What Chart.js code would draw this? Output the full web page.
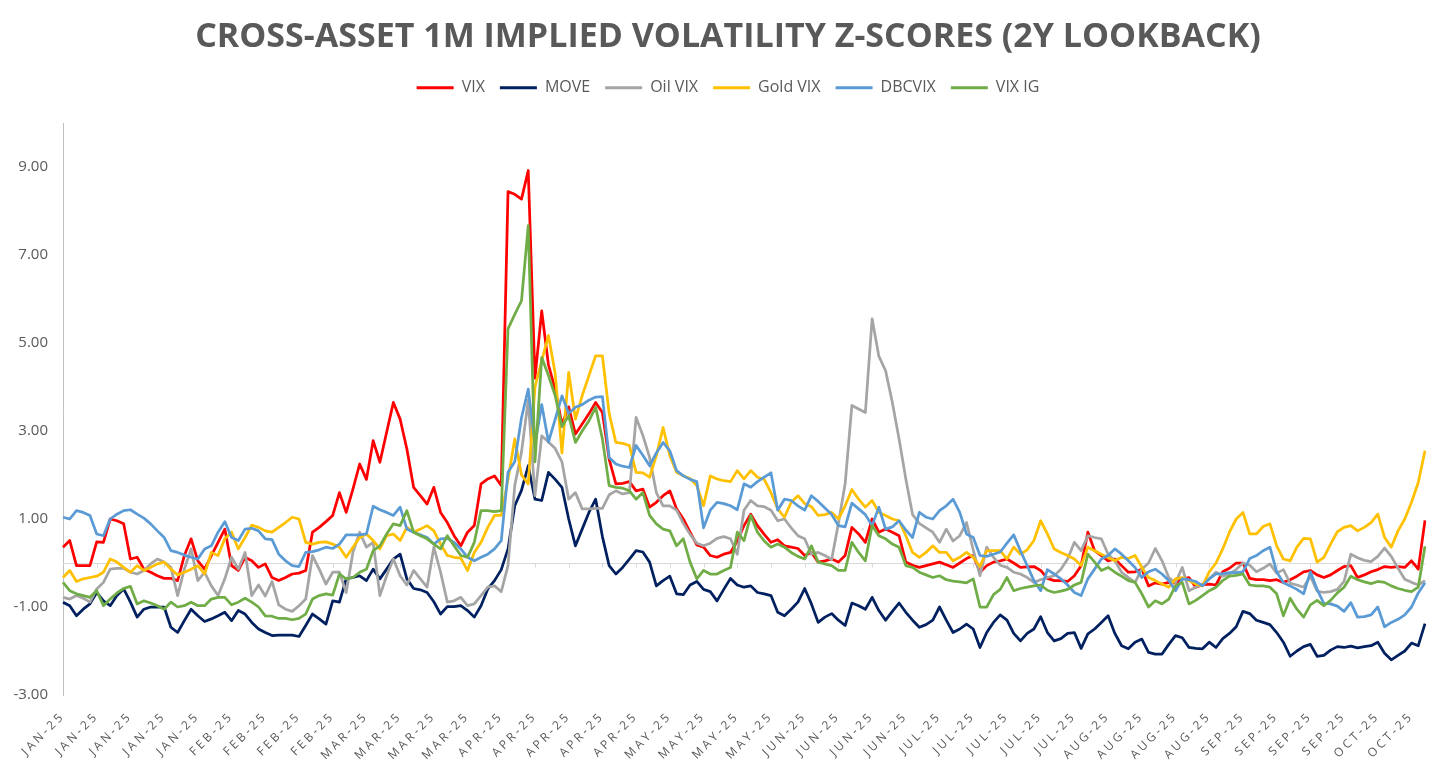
<!DOCTYPE html>
<html>
<head>
<meta charset="utf-8">
<title>Cross-asset 1M implied volatility z-scores</title>
<script src="https://cdn.jsdelivr.net/npm/chart.js@4.4.1/dist/chart.umd.min.js"></script>
<style>
  html, body { margin: 0; padding: 0; background: #ffffff; }
  #wrap { width: 1456px; height: 772px; }
</style>
</head>
<body>
<div id="wrap"><canvas id="volChart" width="1456" height="772"></canvas></div>
<script>
// one tick label every 5 trading days
var tickLabels = [
    'JAN-25', 'JAN-25', 'JAN-25', 'JAN-25', 'JAN-25',
    'FEB-25', 'FEB-25', 'FEB-25', 'FEB-25',
    'MAR-25', 'MAR-25', 'MAR-25', 'MAR-25',
    'APR-25', 'APR-25', 'APR-25', 'APR-25', 'APR-25',
    'MAY-25', 'MAY-25', 'MAY-25', 'MAY-25',
    'JUN-25', 'JUN-25', 'JUN-25', 'JUN-25',
    'JUL-25', 'JUL-25', 'JUL-25', 'JUL-25', 'JUL-25',
    'AUG-25', 'AUG-25', 'AUG-25', 'AUG-25',
    'SEP-25', 'SEP-25', 'SEP-25', 'SEP-25',
    'OCT-25', 'OCT-25'
];
var labelEvery = 5;
var yTicks = [-3, -1, 1, 3, 5, 7, 9];

// daily z-scores
var vix = [
    0.36, 0.51, -0.06, -0.06, -0.06, 0.48, 0.47, 1.0, 0.96, 0.89, 0.09, 0.13, -0.14, -0.21, -0.29, -0.35, -0.35, -0.4, 0.17, 0.55,
    0.05, -0.14, 0.17, 0.47, 0.77, -0.06, -0.17, 0.13, 0.05, -0.1, -0.02, -0.33, -0.4, -0.33, -0.25,
    -0.23, -0.17, 0.7, 0.81, 0.94, 1.08, 1.6, 1.15, 1.68, 2.25, 1.9, 2.78, 2.29, 2.97, 3.65, 3.27, 2.59, 1.72, 1.53, 1.34,
    1.72, 1.15, 0.92, 0.62, 0.39, 0.7, 0.85, 1.8, 1.91, 1.98, 1.76,
    8.44, 8.38, 8.27, 8.92, 4.2, 5.73, 4.5, 3.95, 3.15, 3.55, 2.93, 3.16, 3.39, 3.65, 3.42, 2.36, 1.8, 1.81, 1.85, 1.64,
    1.68, 1.27, 1.38, 1.53, 1.64, 1.23, 1.0, 0.7, 0.41, 0.36, 0.17, 0.13, 0.2, 0.24, 0.5, 0.85, 1.11, 0.85,
    0.65, 0.47, 0.53, 0.39, 0.36, 0.33, 0.17, 0.24, 0.02, 0.05, 0.09, 0.02, 0.17, 0.81, 0.66, 0.47, 1.0, 0.7, 0.77, 0.7,
    0.62, 0.02, -0.05, -0.1, -0.06, -0.02, 0.02, -0.04, -0.1, 0.0, 0.1, 0.17, -0.21, -0.06, 0.02,
    0.05, 0.09, 0.0, -0.1, -0.09, -0.08, -0.17, -0.35, -0.4, -0.4, -0.42, -0.29, -0.06, 0.7, 0.28, 0.17, 0.05, 0.09, -0.06, -0.21,
    -0.2, -0.14, -0.52, -0.45, -0.48, -0.44, -0.46, -0.36, -0.33, -0.55, -0.5, -0.48, -0.5, -0.2, -0.12,
    0.0, 0.0, -0.35, -0.38, -0.38, -0.4, -0.38, -0.44, -0.38, -0.3, -0.2, -0.17, -0.27, -0.33, -0.27, -0.17, -0.08, -0.06, -0.33, -0.27,
    -0.2, -0.15, -0.08, -0.1, -0.08, -0.1, 0.05, -0.14, 0.97
];
var move = [
    -0.89, -0.97, -1.2, -1.05, -0.93, -0.67, -0.86, -0.97, -0.74, -0.59, -0.89, -1.23, -1.05, -1.0, -1.0, -1.0, -1.46, -1.58, -1.31, -1.05,
    -1.2, -1.33, -1.27, -1.2, -1.12, -1.31, -1.08, -1.16, -1.35, -1.5, -1.58, -1.65, -1.64, -1.64, -1.64,
    -1.67, -1.42, -1.16, -1.27, -1.39, -0.86, -0.89, -0.36, -0.33, -0.29, -0.4, -0.14, -0.36, -0.14, 0.09, 0.2, -0.36, -0.58, -0.61, -0.67,
    -0.88, -1.16, -0.99, -0.99, -0.97, -1.08, -1.23, -0.97, -0.59, -0.4, -0.15,
    0.32, 1.3, 1.65, 2.21, 1.45, 1.42, 2.06, 1.9, 1.72, 1.0, 0.39, 0.77, 1.15, 1.45, 0.6, -0.06, -0.25, -0.1, 0.09, 0.28,
    0.25, 0.02, -0.52, -0.4, -0.3, -0.7, -0.72, -0.5, -0.42, -0.6, -0.65, -0.86, -0.6, -0.35, -0.5, -0.55, -0.52, -0.67,
    -0.7, -0.74, -1.12, -1.2, -1.05, -0.89, -0.58, -0.93, -1.35, -1.23, -1.15, -1.3, -1.42, -0.91, -0.97, -1.05, -0.78, -1.08, -1.3, -1.1,
    -0.91, -1.12, -1.3, -1.46, -1.4, -1.3, -1.0, -1.3, -1.58, -1.5, -1.39, -1.5, -1.92, -1.58, -1.35,
    -1.18, -1.3, -1.6, -1.77, -1.6, -1.5, -1.22, -1.58, -1.77, -1.72, -1.6, -1.58, -1.94, -1.61, -1.5, -1.35, -1.2, -1.6, -1.88, -1.95,
    -1.8, -1.73, -2.03, -2.07, -2.07, -1.85, -1.65, -1.7, -1.92, -1.94, -1.95, -1.8, -1.92, -1.72, -1.6,
    -1.45, -1.1, -1.15, -1.3, -1.35, -1.4, -1.58, -1.8, -2.12, -2.0, -1.9, -1.85, -2.12, -2.1, -1.98, -1.9, -1.92, -1.89, -1.93, -1.9,
    -1.88, -1.8, -2.05, -2.2, -2.1, -2.0, -1.82, -1.88, -1.38
];
var oilVix = [
    -0.78, -0.82, -0.74, -0.8, -0.89, -0.59, -0.44, -0.14, -0.12, -0.12, -0.21, -0.25, -0.17, -0.02, 0.09, 0.02, -0.1, -0.74, -0.14, 0.32,
    -0.4, -0.21, -0.52, -0.74, -0.36, 0.13, -0.14, 0.24, -0.74, -0.5, -0.75, -0.42, -0.95, -1.05, -1.1,
    -0.97, -0.82, 0.17, -0.14, -0.48, -0.21, -0.21, -0.67, 0.24, 0.7, 0.36, 0.47, -0.74, -0.29, 0.09, -0.29, -0.5, -0.17, -0.36, -0.55,
    0.36, -0.21, -0.89, -0.86, -0.78, -0.97, -0.93, -0.74, -0.55, -0.52, -0.65,
    -0.06, 1.76, 2.52, 3.7, 1.53, 2.89, 2.75, 2.6, 2.3, 1.45, 1.6, 1.23, 1.23, 1.24, 1.24, 1.55, 1.64, 1.57, 1.6, 3.31,
    2.9, 2.4, 1.6, 1.3, 1.3, 1.2, 0.9, 0.65, 0.45, 0.39, 0.45, 0.56, 0.6, 0.55, 0.2, 1.2, 1.42, 1.3,
    1.28, 1.2, 0.96, 1.0, 0.8, 0.62, 0.55, 0.2, 0.24, 0.17, 0.08, 0.9, 1.8, 3.58, 3.5, 3.42, 5.55, 4.7, 4.37, 3.65,
    2.82, 1.91, 1.1, 0.9, 0.8, 0.7, 0.47, 0.77, 0.5, 0.62, 0.92, 0.3, -0.29, 0.36, 0.13,
    -0.05, -0.1, -0.21, -0.25, -0.33, -0.44, -0.38, -0.33, -0.29, -0.14, 0.09, 0.47, 0.28, 0.62, 0.58, 0.55, 0.2, 0.05, -0.21, -0.33,
    -0.44, -0.14, 0.0, 0.33, 0.05, -0.33, -0.45, -0.1, -0.63, -0.55, -0.48, -0.36, -0.21, -0.3, -0.25,
    -0.15, 0.0, -0.05, -0.2, -0.12, -0.02, -0.23, -0.15, -0.46, -0.5, -0.55, -0.3, -0.64, -0.67, -0.65, -0.6, -0.42, 0.2, 0.12, 0.06,
    0.03, 0.15, 0.34, 0.15, -0.12, -0.37, -0.44, -0.5, -0.4
];
var goldVix = [
    -0.33, -0.17, -0.42, -0.36, -0.33, -0.3, -0.21, 0.09, 0.02, -0.1, -0.21, -0.06, -0.17, -0.1, -0.02, 0.02, -0.14, -0.27, -0.21, -0.14,
    -0.06, -0.25, 0.24, 0.17, 0.55, 0.7, 0.32, 0.58, 0.86, 0.81, 0.73, 0.7, 0.81, 0.92, 1.04,
    1.0, 0.47, 0.43, 0.47, 0.48, 0.43, 0.36, 0.13, 0.36, 0.58, 0.66, 0.51, 0.32, 0.62, 0.66, 0.51, 0.81, 0.7, 0.77, 0.85,
    0.73, 0.43, 0.17, 0.13, 0.11, -0.17, 0.24, 0.47, 0.81, 1.08, 1.08,
    1.9, 2.82, 2.0, 1.8, 4.0, 4.6, 5.17, 4.3, 2.5, 4.33, 3.27, 3.8, 4.26, 4.71, 4.71, 3.4, 2.74, 2.72, 2.67, 2.06,
    2.05, 1.95, 2.44, 3.08, 2.44, 2.06, 1.98, 1.92, 1.76, 1.3, 1.98, 1.91, 1.87, 1.85, 2.1, 1.91, 2.1, 1.95,
    1.9, 1.6, 1.23, 1.04, 1.38, 1.53, 1.35, 1.28, 1.08, 1.1, 1.15, 1.0, 1.3, 1.67, 1.45, 1.27, 1.42, 1.15, 1.08, 1.0,
    0.96, 0.62, 0.24, 0.13, 0.24, 0.39, 0.24, 0.24, 0.05, 0.13, 0.24, 0.13, -0.08, 0.28, 0.28,
    0.28, 0.09, 0.36, 0.2, 0.3, 0.51, 0.96, 0.66, 0.32, 0.24, 0.17, 0.09, -0.06, 0.36, 0.28, 0.2, 0.12, 0.05, 0.13, 0.1,
    0.17, -0.1, -0.33, -0.4, -0.48, -0.55, -0.36, -0.33, -0.4, -0.48, -0.52, -0.2, 0.0, 0.32, 0.7,
    1.0, 1.15, 0.66, 0.66, 0.83, 0.89, 0.39, 0.09, 0.05, 0.36, 0.56, 0.55, 0.02, 0.13, 0.43, 0.71, 0.81, 0.85, 0.73, 0.81,
    0.92, 1.11, 0.58, 0.36, 0.73, 1.0, 1.38, 1.83, 2.55
];
var dbcvix = [
    1.04, 1.0, 1.19, 1.15, 1.08, 0.66, 0.62, 1.0, 1.11, 1.19, 1.21, 1.11, 1.02, 0.89, 0.73, 0.58, 0.28, 0.24, 0.18, 0.13,
    0.09, 0.32, 0.39, 0.7, 0.94, 0.58, 0.51, 0.77, 0.79, 0.73, 0.55, 0.53, 0.2, 0.05, -0.06,
    -0.08, 0.24, 0.26, 0.3, 0.36, 0.33, 0.43, 0.64, 0.64, 0.64, 0.66, 1.29, 1.21, 1.15, 1.08, 1.27, 0.77, 0.7, 0.64, 0.58,
    0.43, 0.55, 0.56, 0.47, 0.32, 0.13, 0.05, 0.13, 0.2, 0.32, 0.51,
    2.06, 2.3, 3.3, 3.95, 2.7, 3.6, 2.75, 3.27, 3.8, 3.4, 3.54, 3.6, 3.7, 3.77, 3.78, 2.4, 2.25, 2.2, 2.17, 2.67,
    2.45, 2.21, 2.5, 2.74, 2.55, 2.1, 1.98, 1.9, 1.85, 0.8, 1.2, 1.38, 1.35, 1.3, 1.21, 1.8, 1.72, 1.85,
    1.95, 2.05, 1.2, 1.45, 1.42, 1.3, 1.2, 1.53, 1.4, 1.25, 1.1, 0.85, 0.82, 1.36, 1.23, 1.1, 0.85, 1.27, 0.77, 0.82,
    0.96, 0.75, 0.58, 1.15, 1.04, 1.0, 1.19, 1.3, 1.45, 1.15, 0.66, 0.58, 0.17, 0.15, 0.2,
    0.25, 0.45, 0.64, 0.28, -0.06, -0.4, -0.63, -0.15, -0.25, -0.36, -0.5, -0.67, -0.74, -0.36, -0.14, 0.09, 0.17, 0.32, 0.2, 0.05,
    -0.1, -0.33, -0.2, -0.14, -0.25, -0.4, -0.63, -0.36, -0.38, -0.42, -0.52, -0.36, -0.25, -0.24, -0.22,
    -0.22, -0.2, 0.1, 0.17, 0.28, 0.36, -0.2, -0.45, -0.52, -0.6, -0.7, -0.2, -0.6, -0.92, -0.93, -0.98, -1.1, -0.9, -1.23, -1.22,
    -1.18, -1.0, -1.45, -1.35, -1.28, -1.18, -1.0, -0.68, -0.45
];
var vixIg = [
    -0.44, -0.63, -0.7, -0.74, -0.78, -0.63, -0.97, -0.82, -0.68, -0.58, -0.53, -0.93, -0.86, -0.91, -0.97, -1.05, -0.89, -1.0, -0.97, -0.89,
    -0.97, -0.97, -0.82, -0.78, -0.78, -0.95, -0.89, -0.8, -0.89, -1.0, -1.2, -1.21, -1.26, -1.26, -1.29,
    -1.26, -1.16, -0.82, -0.74, -0.7, -0.73, -0.25, -0.36, -0.33, -0.21, -0.14, 0.28, 0.39, 0.66, 0.89, 0.85, 1.19, 0.7, 0.62, 0.55,
    0.43, 0.32, 0.62, 0.39, 0.17, 0.13, 0.47, 1.19, 1.19, 1.17, 1.19,
    5.32, 5.65, 5.96, 7.67, 2.3, 4.67, 4.26, 3.8, 3.1, 3.35, 2.74, 3.0, 3.23, 3.54, 2.82, 1.76, 1.72, 1.7, 1.64, 1.45,
    1.6, 1.08, 0.89, 0.77, 0.73, 0.39, 0.55, 0.02, -0.36, -0.17, -0.25, -0.25, -0.17, -0.1, 0.7, 0.51, 1.08, 0.7,
    0.5, 0.36, 0.43, 0.36, 0.24, 0.15, 0.09, 0.39, 0.02, -0.02, -0.06, -0.17, -0.17, 0.47, 0.24, 0.05, 0.85, 0.62, 0.55, 0.43,
    0.36, -0.06, -0.1, -0.21, -0.27, -0.33, -0.29, -0.38, -0.41, -0.43, -0.45, -0.36, -1.0, -1.0, -0.72,
    -0.6, -0.33, -0.63, -0.58, -0.55, -0.52, -0.5, -0.62, -0.67, -0.64, -0.6, -0.5, -0.44, 0.2, 0.02, -0.17, -0.1, -0.21, -0.3, -0.4,
    -0.44, -0.7, -1.0, -0.86, -0.93, -0.82, -0.52, -0.44, -0.93, -0.85, -0.74, -0.63, -0.55, -0.4, -0.3,
    -0.28, -0.25, -0.5, -0.52, -0.52, -0.55, -0.7, -1.2, -0.8, -1.05, -1.23, -0.95, -0.85, -0.97, -0.85, -0.68, -0.55, -0.3, -0.38, -0.43,
    -0.47, -0.42, -0.44, -0.52, -0.58, -0.62, -0.65, -0.55, 0.38
];

// each trading day takes the month of its 5-day tick block
var categories = vix.map(function (v, i) {
    return tickLabels[Math.min(Math.floor(i / labelEvery), tickLabels.length - 1)];
});

var textGrey = '#595959';

// light grey zero line with small tick marks, like the Excel category axis
var zeroLine = {
    id: 'zeroLine',
    beforeDatasetsDraw: function (chart) {
        var c = chart.ctx, xs = chart.scales.x, ys = chart.scales.y;
        var yz = Math.round(ys.getPixelForValue(0)) + 0.5;
        c.save();
        c.strokeStyle = '#d9d9d9';
        c.lineWidth = 1;
        c.beginPath();
        c.moveTo(chart.chartArea.left, yz);
        c.lineTo(chart.chartArea.right, yz);
        for (var i = labelEvery; i < categories.length; i += labelEvery) {
            var px = Math.round(xs.getPixelForValue(i)) + 0.5;
            c.moveTo(px, yz);
            c.lineTo(px, yz + 4);
        }
        c.stroke();
        c.restore();
    }
};

// x labels sit on their own layer (ticks.z = 1), so only they get the wide letter spacing
var spacedLabels = {
    id: 'spacedLabels',
    afterDatasetsDraw: function (chart) { chart.ctx.letterSpacing = '3px'; },
    afterDraw: function (chart) { chart.ctx.letterSpacing = '0px'; }
};

function series(label, data, color, order) {
    return {
        label: label,
        data: data,
        borderColor: color,
        backgroundColor: color,
        borderWidth: 2.75,
        pointRadius: 0,
        tension: 0,
        fill: false,
        borderJoinStyle: 'round',
        order: order // later series drawn on top, as in Excel
    };
}

var ctx = document.getElementById('volChart').getContext('2d');
var chart = new Chart(ctx, {
    type: 'line',
    data: {
        labels: categories,
        datasets: [
            series('VIX', vix, '#FF0000', 6),
            series('MOVE', move, '#002060', 5),
            series('Oil VIX', oilVix, '#A5A5A5', 4),
            series('Gold VIX', goldVix, '#FFC000', 3),
            series('DBCVIX', dbcvix, '#5B9BD5', 2),
            series('VIX IG', vixIg, '#70AD47', 1)
        ]
    },
    options: {
        responsive: false,
        animation: false,
        layout: { padding: 0 },
        plugins: {
            title: {
                display: true,
                text: 'CROSS-ASSET 1M IMPLIED VOLATILITY Z-SCORES (2Y LOOKBACK)',
                color: textGrey,
                font: { family: 'Open Sans', size: 34, weight: 'bold' },
                padding: { top: 17, bottom: 7 }
            },
            subtitle: {
                display: true,
                text: '',
                weight: 500, // spacer between legend and plot
                font: { size: 1 },
                padding: { top: 16, bottom: 0 }
            },
            legend: {
                display: true,
                reverse: true,
                labels: {
                    color: textGrey,
                    font: { family: 'Open Sans', size: 16 },
                    boxWidth: 37,
                    boxHeight: 3,
                    padding: 15,
                    generateLabels: function (chart) {
                        var items = Chart.defaults.plugins.legend.labels.generateLabels(chart);
                        items.forEach(function (it) { it.lineWidth = 0; });
                        return items;
                    }
                }
            },
            tooltip: { enabled: false }
        },
        scales: {
            x: {
                grid: { display: false, drawTicks: false },
                border: { display: false },
                ticks: {
                    autoSkip: false,
                    maxRotation: 45,
                    minRotation: 45,
                    padding: 14,
                    z: 1,
                    color: textGrey,
                    font: { family: 'Open Sans', size: 12 },
                    callback: function (value, index) {
                        return index % labelEvery === 0 ? categories[index] : '';
                    }
                },
                afterFit: function (scale) { scale.height = 77; }
            },
            y: {
                min: -3,
                max: 10,
                grid: { display: false, drawTicks: false },
                border: { display: true, color: '#bfbfbf', width: 1 },
                ticks: {
                    padding: 15,
                    color: textGrey,
                    font: { family: 'Open Sans', size: 15 },
                    callback: function (value) { return value.toFixed(2); }
                },
                afterBuildTicks: function (axis) {
                    axis.ticks = yTicks.map(function (v) { return { value: v }; });
                },
                afterFit: function (scale) { scale.width = 63; }
            },
            // empty right-hand axis: keeps a blank margin without shifting the centred title and legend
            rightGap: {
                type: 'linear',
                position: 'right',
                display: true,
                grid: { display: false, drawTicks: false },
                border: { display: false },
                ticks: { display: false },
                afterFit: function (scale) { scale.width = 31; }
            }
        }
    },
    plugins: [zeroLine, spacedLabels]
});
</script>
</body>
</html>
